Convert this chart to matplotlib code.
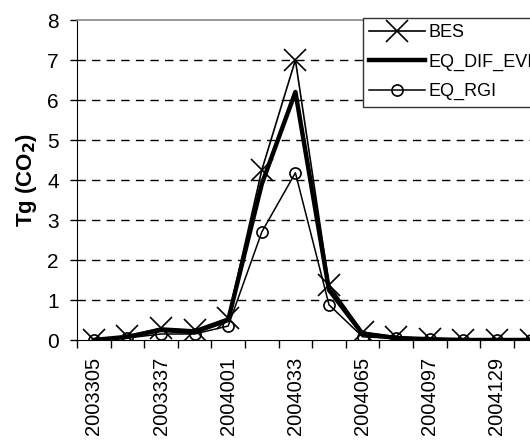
import matplotlib
matplotlib.use("Agg")
import matplotlib.pyplot as plt
import numpy as np

categories = ["2003305", "2003321", "2003337", "2003353", "2004001", "2004017",
              "2004033", "2004049", "2004065", "2004081", "2004097", "2004113",
              "2004129", "2004145"]
bes = [0.0, 0.1, 0.3, 0.25, 0.55, 4.25, 7.0, 1.38, 0.2, 0.08, 0.03, 0.0, 0.0, 0.0]
eq_dif_evi = [0.0, 0.08, 0.25, 0.2, 0.5, 3.9, 6.2, 1.25, 0.15, 0.05, 0.02, 0.0, 0.0, 0.0]
eq_rgi = [0.0, 0.05, 0.15, 0.15, 0.35, 2.7, 4.18, 0.88, 0.08, 0.04, 0.02, 0.0, 0.0, 0.0]
yticks = [0, 1, 2, 3, 4, 5, 6, 7, 8]

plt.rcParams['font.family'] = ['Liberation Sans', 'DejaVu Sans']

W, H = 530, 441
fig = plt.figure(figsize=(W / 100, H / 100), dpi=100)
left, right, top, bottom = 77, 547.4, 20, 340
ax = fig.add_axes([left / W, (H - bottom) / H, (right - left) / W, (bottom - top) / H])

x = np.arange(len(categories))
ax.plot(x, eq_rgi, color='black', lw=1.1, marker='o', ms=8, mfc='none', mec='black', mew=1.2,
        label='EQ_RGI', zorder=3)
ax.plot(x, eq_dif_evi, color='black', lw=3.2, label='EQ_DIF_EVI', zorder=4)
ax.plot(x, bes, color='black', lw=1.2, marker='x', ms=16, mew=1.2, label='BES', zorder=5)

ax.set_xlim(-0.5, len(categories) - 0.5)
ax.set_ylim(0, 8)
ax.set_yticks(yticks)
ax.set_yticklabels([str(v) for v in yticks], fontsize=15)
ax.tick_params(axis='y', direction='out', length=5, width=1, pad=8)

ax.set_xticks(x[::2])
ax.set_xticklabels(categories[::2], rotation=90, fontsize=14.5)
ax.set_xticks(np.arange(-0.5, len(categories), 1.0), minor=True)
ax.tick_params(axis='x', which='major', length=0, pad=12)
ax.tick_params(axis='x', which='minor', direction='out', length=6, width=1)

for v in yticks[1:-1]:
    ax.axhline(v, color='black', lw=1, ls=(0, (6, 4.5)), zorder=1)

ax.spines['top'].set_color('#888888')
ax.spines['top'].set_linewidth(1.2)
ax.spines['left'].set_color('black')
ax.spines['bottom'].set_color('black')
ax.spines['right'].set_visible(False)

ax.set_ylabel('Tg (CO$_\\mathbf{2}$)', fontsize=16, fontweight='bold', labelpad=6)

handles, labels = ax.get_legend_handles_labels()
order = [2, 1, 0]
leg = ax.legend([handles[i] for i in order], [labels[i] for i in order],
                loc='upper left', bbox_to_anchor=((363 - left) / (right - left), (bottom - 18) / (bottom - top)),
                frameon=True, fancybox=False, framealpha=1, edgecolor='#333333',
                fontsize=13, handlelength=3.1, handletextpad=0.15, labelspacing=0.68,
                borderpad=0.35, borderaxespad=0)
leg.get_frame().set_linewidth(1)
leg.set_zorder(10)

fig.savefig('out.png', dpi=100)
